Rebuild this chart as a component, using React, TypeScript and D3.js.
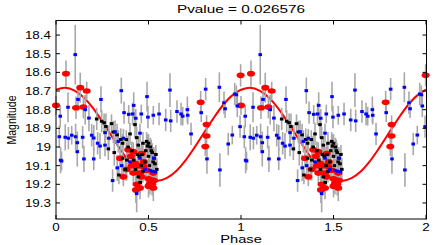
import React, { useEffect, useRef } from 'react';
import * as d3 from 'd3';

// model curve for one cycle (phase 0..1), repeated for 1..2
const curvePhase = [0, 0.05, 0.1, 0.15, 0.2, 0.25, 0.3, 0.35, 0.4, 0.45, 0.5, 0.55, 0.6, 0.65, 0.7, 0.75, 0.8, 0.85, 0.9, 0.95, 1];
const curveMag = [18.693, 18.683, 18.698, 18.735, 18.792, 18.863, 18.94, 19.016, 19.085, 19.138, 19.171, 19.181, 19.166, 19.129, 19.072, 19.001, 18.924, 18.848, 18.779, 18.726, 18.693];

// [phase, magnitude, error]
const redPoints = [
  [0.0, 18.777, 0.05], [0.054, 18.607, 0.07], [0.108, 18.79, 0.06], [0.131, 18.682, 0.08],
  [0.148, 18.786, 0.06], [0.166, 18.7, 0.05], [0.782, 18.76, 0.06], [0.814, 18.88, 0.05],
  [0.814, 18.941, 0.05], [0.807, 18.998, 0.05], [0.998, 18.616, 0.06],
  [0.346, 19.06, 0.05], [0.364, 19.16, 0.05], [0.39, 19.015, 0.05], [0.382, 19.12, 0.06],
  [0.405, 19.05, 0.05], [0.41, 19.1, 0.05], [0.418, 19.025, 0.05], [0.418, 19.14, 0.06],
  [0.427, 19.087, 0.06], [0.436, 19.2, 0.06], [0.432, 19.23, 0.07], [0.446, 19.1, 0.06],
  [0.454, 19.14, 0.06], [0.454, 19.22, 0.06], [0.462, 19.16, 0.06], [0.463, 19.035, 0.05],
  [0.472, 19.105, 0.06], [0.475, 19.08, 0.05], [0.49, 19.125, 0.06], [0.5, 19.17, 0.06],
  [0.5, 19.21, 0.06], [0.508, 19.195, 0.06], [0.517, 19.177, 0.05], [0.526, 19.14, 0.06],
  [0.526, 19.22, 0.07], [0.52, 19.2, 0.06], [0.53, 19.18, 0.05],
];

const bluePoints = [
  [0.023, 18.835, 0.06], [0.065, 18.787, 0.08], [0.104, 18.505, 0.16], [0.119, 18.745, 0.06],
  [0.158, 18.8, 0.08], [0.178, 18.845, 0.07], [0.243, 18.745, 0.07], [0.353, 18.698, 0.07],
  [0.368, 18.816, 0.06], [0.393, 18.825, 0.05], [0.414, 18.823, 0.06], [0.42, 18.777, 0.07],
  [0.431, 18.846, 0.05], [0.461, 18.823, 0.05], [0.492, 18.73, 0.08], [0.497, 18.84, 0.06],
  [0.526, 18.83, 0.05], [0.557, 18.823, 0.06], [0.593, 18.855, 0.06], [0.616, 18.695, 0.09],
  [0.62, 18.86, 0.06], [0.654, 18.81, 0.06], [0.676, 18.823, 0.06], [0.685, 18.835, 0.05],
  [0.71, 18.8, 0.07], [0.712, 18.83, 0.05], [0.785, 18.816, 0.05], [0.809, 18.69, 0.06],
  [0.883, 18.68, 0.08], [0.908, 18.763, 0.06], [0.914, 18.795, 0.05], [0.966, 18.716, 0.06],
  [0.975, 18.72, 0.05], [0.98, 18.78, 0.06],
  [0.018, 18.945, 0.06], [0.025, 19.071, 0.07], [0.03, 19.075, 0.05], [0.05, 18.948, 0.07],
  [0.067, 18.953, 0.06], [0.085, 18.937, 0.05], [0.106, 18.945, 0.07], [0.115, 18.977, 0.06],
  [0.115, 19.025, 0.08], [0.144, 18.948, 0.06], [0.151, 19.064, 0.07], [0.193, 18.937, 0.06],
  [0.204, 18.952, 0.07], [0.204, 19.064, 0.06], [0.225, 18.98, 0.06], [0.238, 18.995, 0.07],
  [0.265, 18.99, 0.06], [0.265, 18.923, 0.05], [0.286, 18.953, 0.07], [0.319, 18.918, 0.06],
  [0.306, 19.18, 0.06], [0.331, 19.112, 0.07], [0.337, 18.97, 0.06], [0.364, 18.953, 0.05],
  [0.355, 19.1, 0.06], [0.4, 19.08, 0.06], [0.454, 18.926, 0.05], [0.454, 19.06, 0.06],
  [0.481, 19.12, 0.06], [0.436, 19.25, 0.1], [0.508, 19.125, 0.06], [0.52, 19.13, 0.06],
  [0.537, 19.133, 0.05], [0.528, 19.06, 0.06], [0.73, 18.93, 0.06], [0.816, 19.064, 0.08],
  [0.886, 19.123, 0.09], [0.931, 18.984, 0.06], [0.953, 18.936, 0.05], [0.995, 18.891, 0.06],
];

const blackPoints = [
  [0.22, 18.85, 0.06], [0.247, 18.862, 0.06], [0.26, 18.87, 0.05], [0.27, 18.89, 0.07],
  [0.283, 19.01, 0.06], [0.3, 18.875, 0.05], [0.31, 18.92, 0.06], [0.315, 19.03, 0.07],
  [0.33, 18.935, 0.06], [0.34, 19.15, 0.05], [0.35, 18.96, 0.06], [0.36, 18.98, 0.05],
  [0.36, 19.06, 0.06], [0.375, 19.12, 0.06], [0.38, 18.96, 0.05], [0.383, 19.07, 0.05],
  [0.39, 19.0, 0.06], [0.4, 18.93, 0.06], [0.41, 19.02, 0.05], [0.42, 19.07, 0.06],
  [0.427, 18.88, 0.07], [0.43, 19.12, 0.06], [0.436, 18.95, 0.06], [0.44, 19.04, 0.05],
  [0.445, 18.99, 0.05], [0.445, 19.16, 0.06], [0.45, 19.05, 0.06], [0.455, 19.19, 0.06],
  [0.46, 19.1, 0.05], [0.465, 19.04, 0.05], [0.47, 19.13, 0.06], [0.47, 18.98, 0.06],
  [0.48, 19.08, 0.06], [0.485, 19.02, 0.05], [0.49, 18.97, 0.05], [0.495, 18.995, 0.06],
  [0.5, 18.98, 0.05], [0.5, 19.05, 0.06], [0.505, 19.1, 0.05], [0.51, 19.0, 0.05],
  [0.515, 19.02, 0.06], [0.52, 19.03, 0.05], [0.525, 19.08, 0.06], [0.53, 19.06, 0.05],
  [0.535, 19.09, 0.06], [0.54, 19.04, 0.05], [0.545, 19.12, 0.06],
];

const xTicks = [0, 0.5, 1, 1.5, 2];
const yTicks = [18.4, 18.5, 18.6, 18.7, 18.8, 18.9, 19, 19.1, 19.2, 19.3];

const FONT = '"Liberation Sans", Arial, Helvetica, sans-serif';

const App = () => {
  const svgRef = useRef<SVGSVGElement>(null);

  useEffect(() => {
    const width = 436;
    const height = 245;
    const left = 56, right = 426.5, top = 20.5, bottom = 219;

    const svg = d3.select(svgRef.current);
    svg.selectAll('*').remove();
    svg.attr('width', width).attr('height', height);

    const x = d3.scaleLinear().domain([0, 2]).range([left, right - 0.5]);
    const y = d3.scaleLinear().domain([18.322, 19.386]).range([top, bottom]);

    // fold each point twice: phase p and p + 1
    const fold = (pts: number[][]) =>
      [0, 1].flatMap(s => pts.map(d => [d[0] + s, d[1], d[2]])).filter(d => d[0] <= 2);

    const red = fold(redPoints);
    const blue = fold(bluePoints);
    const black = fold(blackPoints);

    // model curve
    const curveData = [0, 1].flatMap(s => curvePhase.map((p, i) => [p + s, curveMag[i]]));
    svg.append('path')
      .datum(curveData)
      .attr('fill', 'none')
      .attr('stroke', '#ff0000')
      .attr('stroke-width', 2)
      .attr('d', d3.line<number[]>().x(d => x(d[0])).y(d => y(d[1])).curve(d3.curveCatmullRom));

    // error bars
    svg.append('g')
      .selectAll('line')
      .data([...red, ...black, ...blue])
      .enter().append('line')
      .attr('x1', d => x(d[0])).attr('x2', d => x(d[0]))
      .attr('y1', d => y(d[1] - d[2])).attr('y2', d => y(Math.min(d[1] + d[2], 19.386)))
      .attr('stroke', '#a8a8a8')
      .attr('stroke-width', 1.6);

    svg.append('g')
      .selectAll('ellipse')
      .data(red)
      .enter().append('ellipse')
      .attr('cx', d => x(d[0])).attr('cy', d => y(d[1]))
      .attr('rx', 4).attr('ry', 2.8)
      .attr('fill', '#ff0000');

    svg.append('g')
      .selectAll('rect')
      .data(black)
      .enter().append('rect')
      .attr('x', d => x(d[0]) - 1.8).attr('y', d => y(d[1]) - 1.5)
      .attr('width', 3.6).attr('height', 3)
      .attr('fill', '#000000');

    svg.append('g')
      .selectAll('rect')
      .data(blue)
      .enter().append('rect')
      .attr('x', d => x(d[0]) - 1.8).attr('y', d => y(d[1]) - 1.5)
      .attr('width', 3.6).attr('height', 3)
      .attr('fill', '#0000ff');

    // box + inward ticks
    svg.append('rect')
      .attr('x', left).attr('y', top)
      .attr('width', right - left).attr('height', bottom - top)
      .attr('fill', 'none').attr('stroke', '#000').attr('stroke-width', 1);

    const tickLen = 4;
    xTicks.forEach(t => {
      const px = x(t);
      svg.append('line').attr('x1', px).attr('x2', px).attr('y1', bottom).attr('y2', bottom - tickLen).attr('stroke', '#000');
      svg.append('line').attr('x1', px).attr('x2', px).attr('y1', top).attr('y2', top + tickLen).attr('stroke', '#000');
      svg.append('text')
        .attr('transform', `translate(${px},231) scale(1.22,1)`)
        .attr('text-anchor', 'middle')
        .attr('font-family', FONT).attr('font-size', 11)
        .text(d3.format('~g')(t));
    });

    yTicks.forEach(t => {
      const py = y(t);
      svg.append('line').attr('x1', left).attr('x2', left + tickLen).attr('y1', py).attr('y2', py).attr('stroke', '#000');
      svg.append('line').attr('x1', right).attr('x2', right - tickLen).attr('y1', py).attr('y2', py).attr('stroke', '#000');
      svg.append('text')
        .attr('transform', `translate(51,${py + 4}) scale(1.22,1)`)
        .attr('text-anchor', 'end')
        .attr('font-family', FONT).attr('font-size', 11)
        .text(d3.format('~g')(t));
    });

    // labels
    svg.append('text')
      .attr('x', 241).attr('y', 12.5)
      .attr('text-anchor', 'middle')
      .attr('font-family', FONT).attr('font-size', 11)
      .attr('textLength', 128).attr('lengthAdjust', 'spacingAndGlyphs')
      .text('Pvalue = 0.026576');

    svg.append('text')
      .attr('transform', 'translate(241,243) scale(1.28,1)')
      .attr('text-anchor', 'middle')
      .attr('font-family', FONT).attr('font-size', 11.5)
      .text('Phase');

    svg.append('text')
      .attr('transform', 'translate(16,120) scale(1.22,1) rotate(-90)')
      .attr('text-anchor', 'middle')
      .attr('font-family', FONT).attr('font-size', 10.5)
      .text('Magnitude');
  }, []);

  return (
    <div style={{ position: 'absolute', left: 0, top: 0 }}>
      <svg ref={svgRef} style={{ display: 'block', background: '#fff' }}></svg>
    </div>
  );
};

export default App;
